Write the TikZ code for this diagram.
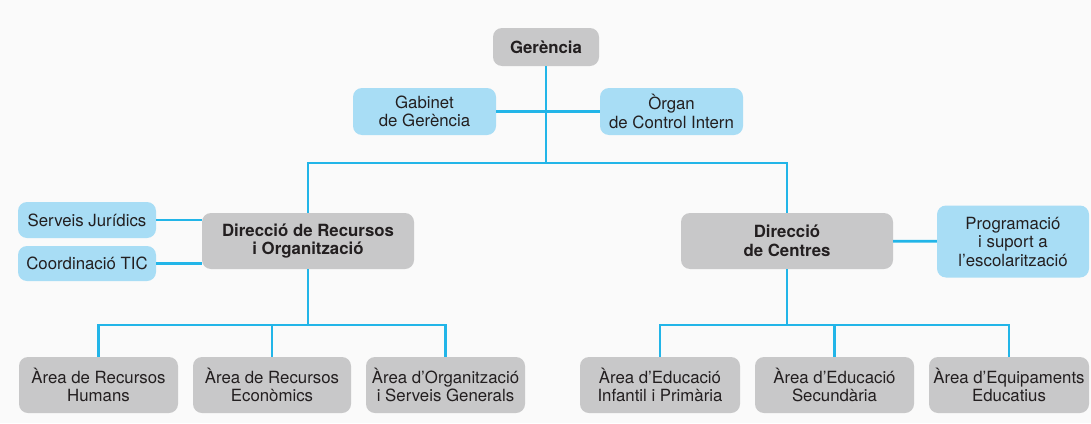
\documentclass[tikz,border=0pt]{standalone}
\usepackage{fontspec}
\setmainfont{TeX Gyre Heros}
\definecolor{bgc}{HTML}{FAFAFA}
\definecolor{graybox}{HTML}{C8C8C9}
\definecolor{bluebox}{HTML}{A8DDF5}
\definecolor{linec}{HTML}{22B5E8}
\definecolor{txt}{HTML}{231F20}
\tikzset{
  base/.style={rounded corners=9pt, align=center, text=txt, inner sep=0pt,
    font=\fontsize{16.8}{18.5}\selectfont},
  gbox/.style={base, fill=graybox},
  hbox/.style={gbox, font=\fontsize{16.8}{18.5}\selectfont\bfseries},
  bbox/.style={base, fill=bluebox},
  conn/.style={draw=linec, line width=2.8pt},
}
\begin{document}
\begin{tikzpicture}[x=1pt,y=-1pt]
\fill[bgc] (0,0) rectangle (1091,423);
\useasboundingbox (0,0) rectangle (1091,423);
% top
\node[hbox, minimum width=106pt, minimum height=38pt] (ger) at (546,47) {Gerència};
\node[bbox, minimum width=143pt, minimum height=47pt] (gab) at (424.5,111.5) {Gabinet\\de Gerència};
\node[bbox, minimum width=143pt, minimum height=47pt] (org) at (671.5,111.5) {Òrgan\\de Control Intern};
% directions
\node[hbox, minimum width=212pt, minimum height=56pt] (dir1) at (308,241) {Direcció de Recursos\\i Organització};
\node[hbox, minimum width=212pt, minimum height=56pt] (dir2) at (787,241) {Direcció\\de Centres};
\node[bbox, minimum width=138pt, minimum height=36pt] (serv) at (87,220) {Serveis Jurídics};
\node[bbox, minimum width=138pt, minimum height=35pt] (coord) at (87,263.5) {Coordinació TIC};
\node[bbox, minimum width=152pt, minimum height=72pt] (prog) at (1013,241.5) {Programació\\i suport a\\l’escolarització};
% areas
\node[gbox, minimum width=159pt, minimum height=56pt] (a1) at (98.5,385) {Àrea de Recursos\\Humans};
\node[gbox, minimum width=158pt, minimum height=56pt] (a2) at (272,385) {Àrea de Recursos\\Econòmics};
\node[gbox, minimum width=159pt, minimum height=56pt] (a3) at (445.5,385) {Àrea d’Organització\\i Serveis Generals};
\node[gbox, minimum width=160pt, minimum height=56pt] (b1) at (660,385) {Àrea d’Educació\\Infantil i Primària};
\node[gbox, minimum width=159pt, minimum height=56pt] (b2) at (834.5,385) {Àrea d’Educació\\Secundària};
\node[gbox, minimum width=160pt, minimum height=56pt] (b3) at (1009,385) {Àrea d’Equipaments\\Educatius};
% junctions
\coordinate (j1) at (546,163);
\coordinate (j2) at (308,325);
\coordinate (j3) at (787,325);
% connectors
\draw[conn] (ger) -- (j1);
\draw[conn] (gab) -- (org);
\draw[conn] (dir1) |- (j1) -| (dir2);
\draw[conn] (serv) -- (serv -| dir1.west);
\draw[conn] (coord) -- (coord -| dir1.west);
\draw[conn] (dir2) -- (prog);
\draw[conn] (dir1) -- (j2);
\draw[conn] (a1) |- (j2) -| (a3);
\draw[conn] (a2) -- (a2 |- j2);
\draw[conn] (dir2) -- (j3);
\draw[conn] (b1) |- (j3) -| (b3);
\draw[conn] (b2) -- (b2 |- j3);
\end{tikzpicture}
\end{document}
